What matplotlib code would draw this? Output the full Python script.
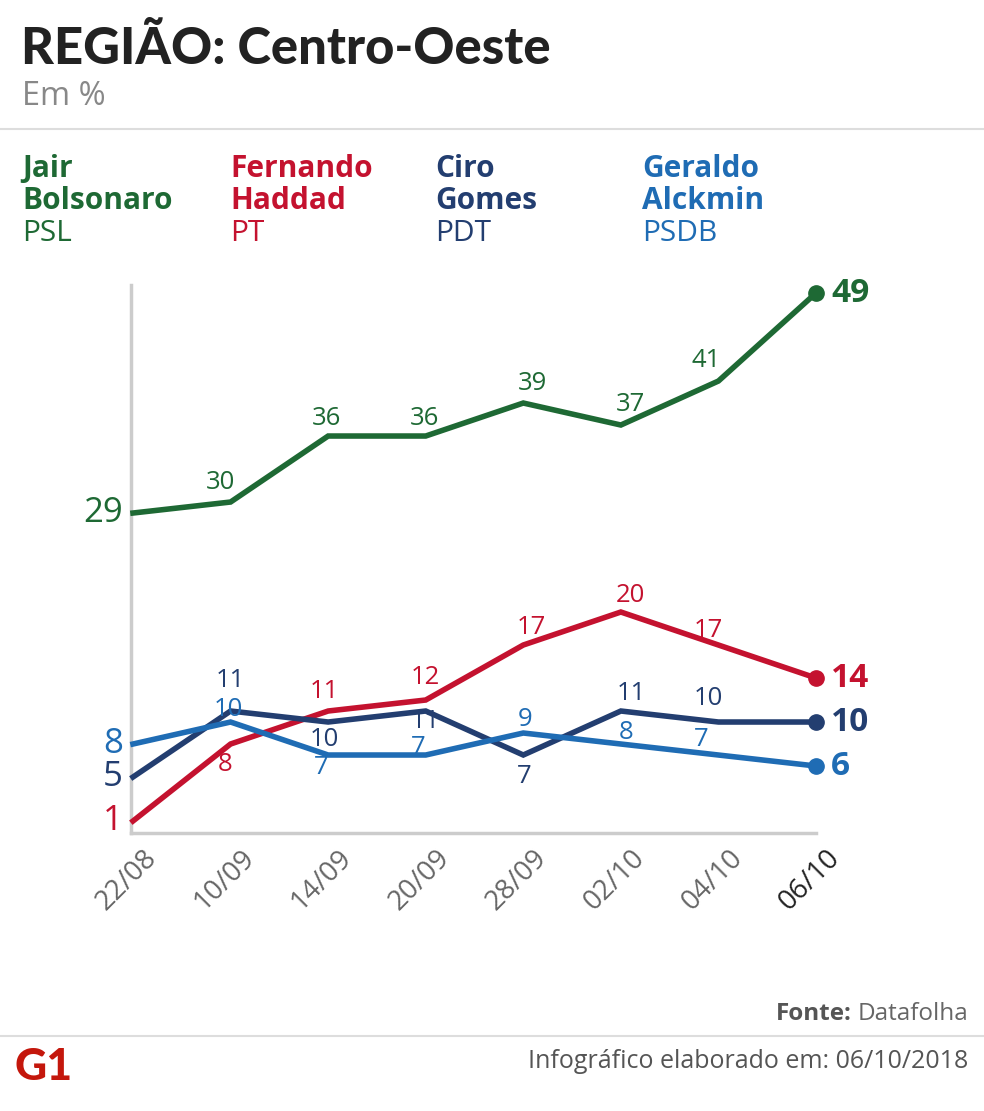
import numpy as np
import matplotlib.pyplot as plt
import matplotlib.transforms as mtransforms
from matplotlib.lines import Line2D

# Dados (Datafolha, região Centro-Oeste)
datas = ["22/08", "10/09", "14/09", "20/09", "28/09", "02/10", "04/10", "06/10"]
bolsonaro = [29, 30, 36, 36, 39, 37, 41, 49]
haddad = [1, 8, 11, 12, 17, 20, 17, 14]
ciro = [5, 11, 10, 11, 7, 11, 10, 10]
alckmin = [8, 10, 7, 7, 9, 8, 7, 6]

nomes = [("Jair", "Bolsonaro", "PSL"), ("Fernando", "Haddad", "PT"),
         ("Ciro", "Gomes", "PDT"), ("Geraldo", "Alckmin", "PSDB")]

verde = "#1e6934"
vermelho = "#c4122f"
marinho = "#233e70"
azul = "#1f6cb4"

plt.rcParams['font.family'] = ['Open Sans', 'DejaVu Sans']

W, H = 984, 1111
fig = plt.figure(figsize=(W / 100, H / 100), dpi=100)

def fx(px):
    return px / W

def fy(py):
    return 1 - py / H

# cabecalho
fig.text(fx(21), fy(64), "REGIÃO: Centro-Oeste", fontsize=36.5, fontweight='black',
         color="#222222", family=['Lato', 'Open Sans'], va='baseline')
fig.text(fx(22), fy(105), "Em %", fontsize=23.5, color="#888888", va='baseline')
fig.add_artist(Line2D([0, 1], [fy(129), fy(129)], color="#dddddd", lw=1.5))

# legenda
cores = [verde, vermelho, marinho, azul]
col_x = [22, 230, 435, 642]
for (n1, n2, partido), c, x in zip(nomes, cores, col_x):
    fig.text(fx(x), fy(177), n1, fontsize=21.5, fontweight='bold', color=c, va='baseline')
    fig.text(fx(x), fy(209), n2, fontsize=21.5, fontweight='bold', color=c, va='baseline')
    fig.text(fx(x), fy(241), partido, fontsize=21.5, color=c, va='baseline')

# grafico
ax = fig.add_axes([fx(131), fy(833), fx(816) - fx(131), fy(285) - fy(833)])
ax.set_xlim(-0.0205, 7)
ax.set_ylim(-0.09, 49.73)
xs = np.arange(len(datas))

series = [(bolsonaro, verde), (haddad, vermelho), (ciro, marinho), (alckmin, azul)]
for vals, c in series:
    ax.plot(xs, vals, color=c, lw=4, solid_joinstyle='miter', clip_on=False, zorder=3)
    ax.plot(xs[-1], vals[-1], 'o', color=c, ms=11, clip_on=False, zorder=4)

# deslocamento (px) dos rotulos intermediarios
off_b = [None, (-10, 20), (-2, 18), (-1, 18), (9, 20), (10, 21), (-12, 21), None]
off_h = [None, (-5, -20), (-4, 20), (0, 23), (8, 18), (10, 17), (-10, 15), None]
off_c = [None, (0, 31), (-4, -17), (0, -10), (1, -21), (10, 18), (-10, 24), None]
off_a = [None, (-2, 13), (-7, -12), (-8, 8), (2, 14), (5, 12), (-17, 16), None]
offs = [off_b, off_h, off_c, off_a]

for (vals, c), off in zip(series, offs):
    for i in range(1, len(vals) - 1):
        ax.annotate(str(vals[i]), (xs[i], vals[i]), xytext=off[i], textcoords='offset pixels',
                    ha='center', va='center', fontsize=18.5, color=c, zorder=5)
    ax.annotate(str(vals[0]), (xs[0], vals[0]), xytext=(-10, 0), textcoords='offset pixels',
                ha='right', va='center', fontsize=25, color=c, zorder=5, annotation_clip=False)
    ax.annotate(str(vals[-1]), (xs[-1], vals[-1]), xytext=(15, 0), textcoords='offset pixels',
                ha='left', va='center', fontsize=24, fontweight='bold', color=c, zorder=5,
                annotation_clip=False)

for s in ['top', 'right']:
    ax.spines[s].set_visible(False)
for s in ['left', 'bottom']:
    ax.spines[s].set_color("#cccccc")
    ax.spines[s].set_linewidth(2.5)
ax.set_yticks([])
ax.set_xticks(xs)
ax.tick_params(axis='x', length=0, pad=6)
labels = ax.set_xticklabels(datas, rotation=45, ha='right', rotation_mode='anchor',
                            fontsize=20, color="#666666")
labels[-1].set_color("#222222")
for lb in labels:
    lb.set_transform(lb.get_transform() + mtransforms.Affine2D().translate(10, -3))

# rodape
r = fig.canvas.get_renderer()
t_fonte = fig.text(fx(968), fy(1020), "Datafolha", fontsize=17.5, color="#666666",
                   ha='right', va='baseline')
bb = t_fonte.get_window_extent(renderer=r)
fig.text(bb.x0 / W - fx(6), fy(1020), "Fonte:", fontsize=17.5, fontweight='bold',
         color="#555555", ha='right', va='baseline')
fig.add_artist(Line2D([0, 1], [fy(1036), fy(1036)], color="#dddddd", lw=1.5))
fig.text(fx(968), fy(1068), "Infográfico elaborado em: 06/10/2018", fontsize=18,
         color="#555555", ha='right', va='baseline')
fig.text(fx(14), fy(1080), "G1", fontsize=32, fontweight='black',
         color="#c4170c", va='baseline', family=['Lato', 'Open Sans'])

fig.savefig("out.png", dpi=100)
